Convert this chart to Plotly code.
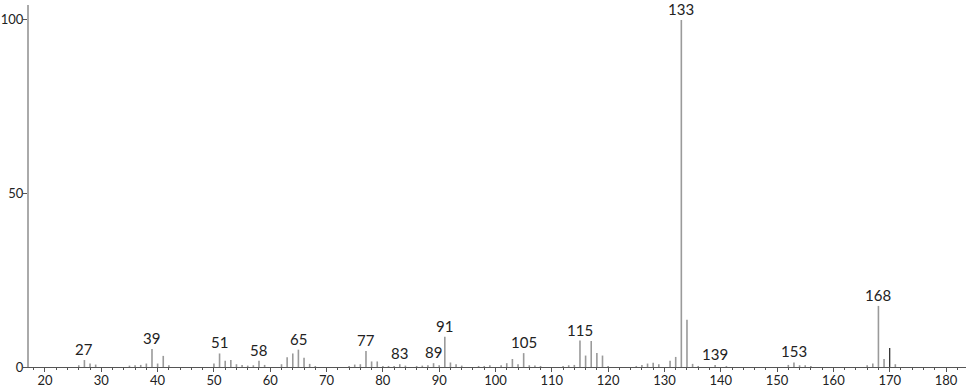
import plotly.graph_objects as go

mz = [26, 27, 28, 29, 35, 36, 37, 38, 39, 40, 41, 42,
      50, 51, 52, 53, 54, 55, 56, 57, 58, 59, 62, 63, 64, 65, 66, 67, 68,
      74, 75, 76, 77, 78, 79, 80, 81, 82, 83, 84, 86, 87, 88, 89, 90, 91, 92, 93, 94,
      97, 98, 99, 101, 102, 103, 104, 105, 106, 107, 108,
      112, 113, 114, 115, 116, 117, 118, 119, 120,
      125, 126, 127, 128, 129, 131, 132, 133, 134, 135, 136,
      139, 141, 152, 153, 154, 155, 156, 166, 167, 168, 169, 170, 171]
intensity = [0.5, 2.0, 1.0, 0.7, 0.4, 0.5, 0.6, 1.0, 5.2, 1.0, 3.2, 0.5,
             1.0, 3.9, 1.8, 2.0, 0.8, 0.6, 0.4, 0.5, 1.8, 0.6, 0.8, 2.8, 3.9, 5.0, 2.7, 0.9, 0.3,
             0.3, 0.7, 0.8, 4.6, 1.6, 1.6, 0.3, 0.3, 0.3, 0.8, 0.4, 0.3, 0.4, 0.5, 1.1, 0.5, 8.7, 1.3, 0.8, 0.4,
             0.3, 0.3, 0.5, 0.5, 1.1, 2.3, 0.8, 4.0, 0.5, 0.4, 0.3,
             0.3, 0.5, 0.6, 7.6, 3.3, 7.5, 4.0, 3.3, 0.3,
             0.3, 0.6, 1.0, 1.2, 0.8, 1.8, 2.9, 100.0, 13.6, 0.9, 0.3,
             0.6, 0.3, 0.6, 1.3, 0.5, 0.5, 0.3, 0.5, 1.0, 17.6, 2.3, 5.5, 0.8]
labelled = [27, 39, 51, 58, 65, 77, 83, 89, 91, 105, 115, 133, 139, 153, 168]
dark_peaks = [170]

xs, ys, xd, yd = [], [], [], []
for m, v in zip(mz, intensity):
    if m in dark_peaks:
        xd += [m, m, None]
        yd += [0, v, None]
    else:
        xs += [m, m, None]
        ys += [0, v, None]

fig = go.Figure()
fig.add_trace(go.Scatter(x=xs, y=ys, mode="lines", line=dict(color="#9a9a9a", width=1.6),
                         hoverinfo="skip", showlegend=False))
fig.add_trace(go.Scatter(x=xd, y=yd, mode="lines", line=dict(color="#222222", width=1.2),
                         hoverinfo="skip", showlegend=False))

for m in labelled:
    v = intensity[mz.index(m)]
    fig.add_annotation(x=m, y=v, text=str(m), showarrow=False, yanchor="bottom",
                       yshift=0, font=dict(size=15, color="#222222", family="Lato"))

fig.update_layout(
    width=966, height=389,
    margin=dict(l=29, r=0, t=5, b=22),
    plot_bgcolor="white", paper_bgcolor="white",
    font=dict(family="Lato", size=13, color="#222222"),
    xaxis=dict(range=[17.16, 183.55], tickvals=list(range(20, 181, 10)), automargin=False,
               showgrid=False, zeroline=False, showline=True, linecolor="#555555", linewidth=1,
               ticks="outside", ticklen=4, tickcolor="#555555", tickwidth=1,
               ticklabelstandoff=-3,
               minor=dict(dtick=2, tick0=0, ticks="outside", ticklen=2, tickcolor="#555555"),
               tickfont=dict(size=13, color="#222222")),
    yaxis=dict(range=[0, 104.3], tickvals=[0, 50, 100], showgrid=False, zeroline=False,
               showline=True, linecolor="#aaaaaa", linewidth=2, automargin=False,
               ticks="outside", ticklen=4, tickcolor="#555555", ticklabelstandoff=-3,
               tickfont=dict(size=13, color="#222222")),
)

fig.write_html("out.html")
